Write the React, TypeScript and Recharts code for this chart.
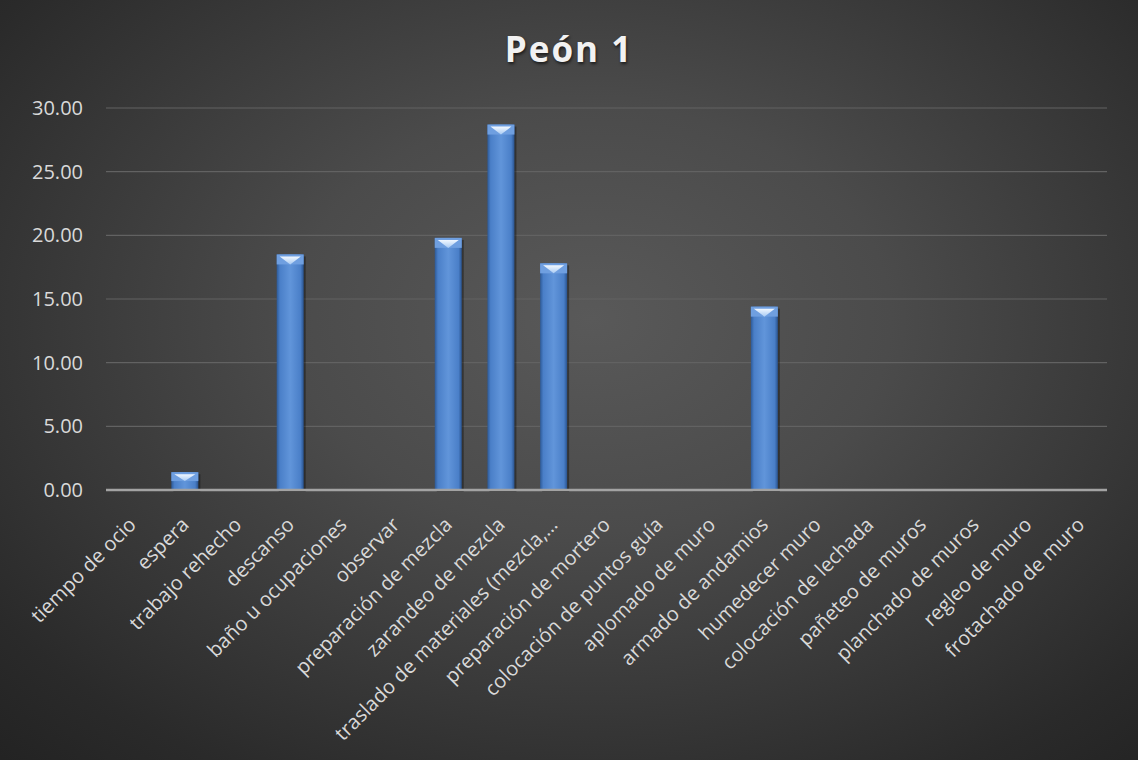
import React from "react";
import { BarChart, Bar, XAxis, YAxis, CartesianGrid } from "recharts";

const categories: string[] = [
  "tiempo de ocio",
  "espera",
  "trabajo rehecho",
  "descanso",
  "baño u ocupaciones",
  "observar",
  "preparación de mezcla",
  "zarandeo de mezcla",
  "traslado de materiales (mezcla,…",
  "preparación de mortero",
  "colocación de puntos guía",
  "aplomado de muro",
  "armado de andamios",
  "humedecer muro",
  "colocación de lechada",
  "pañeteo de muros",
  "planchado de muros",
  "regleo de muro",
  "frotachado de muro",
];

const values: number[] = [0, 1.4, 0, 18.5, 0, 0, 19.8, 28.7, 17.8, 0, 0, 0, 14.4, 0, 0, 0, 0, 0, 0];

const yTicks: number[] = [0, 5, 10, 15, 20, 25, 30];

const title = "Peón 1";

const data = categories.map((name, i) => ({ name, value: values[i] }));

const FONT = "'Open Sans', 'DejaVu Sans', sans-serif";
const LABEL_COLOR = "#d9d9d9";

function BevelBar(props: any) {
  const { x, y, width: w, height: h, index } = props;
  if (!h || h <= 0) return null;
  const id = `barg${index}`;
  const b = Math.min(10, h / 2);
  return (
    <g>
      <defs>
        <linearGradient id={id} x1="0" y1="0" x2="1" y2="0">
          <stop offset="0" stopColor="#2d5a98" />
          <stop offset="0.12" stopColor="#4a7fc8" />
          <stop offset="0.5" stopColor="#6195da" />
          <stop offset="0.88" stopColor="#4a7fc8" />
          <stop offset="1" stopColor="#2a5490" />
        </linearGradient>
        <linearGradient id={id + "t"} x1="0" y1="0" x2="0" y2="1">
          <stop offset="0" stopColor="#f2f8ff" />
          <stop offset="1" stopColor="#a9cbf3" />
        </linearGradient>
      </defs>
      <rect x={x + 2} y={y + 2} width={w} height={h} fill="rgba(0,0,0,0.35)" />
      <rect x={x} y={y} width={w} height={h} fill={`url(#${id})`} />
      <rect x={x} y={y} width={w} height={b} fill="#6f9fe0" />
      <polygon
        points={`${x + 3},${y + 2} ${x + w - 3},${y + 2} ${x + w / 2},${y + b}`}
        fill={`url(#${id}t)`}
      />
    </g>
  );
}

function XTick(props: any) {
  const { x, y, payload } = props;
  const tx = x + 5;
  const ty = y + 36;
  return (
    <text
      x={tx}
      y={ty}
      transform={`rotate(-45, ${tx}, ${ty})`}
      textAnchor="end"
      fill={LABEL_COLOR}
      fontSize={20}
      fontFamily={FONT}
    >
      {payload.value}
    </text>
  );
}

export default function App() {
  return (
    <div
      style={{
        position: "absolute",
        left: 0,
        top: 0,
        width: 1138,
        height: 760,
        background:
          "radial-gradient(ellipse 75% 80% at 52% 42%, #595959 0%, #4b4b4b 35%, #2a2a2a 85%, #232323 100%)",
        overflow: "hidden",
      }}
    >
      <div
        style={{
          position: "absolute",
          left: 0,
          top: 31,
          width: 1138,
          textAlign: "center",
          fontFamily: FONT,
          fontWeight: 700,
          fontSize: 35,
          lineHeight: "36px",
          letterSpacing: 2,
          color: "#f2f2f2",
          textShadow: "1px 2px 3px rgba(0,0,0,0.6)",
        }}
      >
        {title}
      </div>
      <div style={{ position: "absolute", left: 0, top: 0 }}>
        <BarChart
          width={1138}
          height={760}
          data={data}
          margin={{ top: 108, right: 31, bottom: 0, left: 0 }}
          barCategoryGap="24%"
        >
          <CartesianGrid vertical={false} stroke="#626262" strokeWidth={1.2} />
          <XAxis
            dataKey="name"
            interval={0}
            height={270}
            tickLine={false}
            tickSize={0}
            tickMargin={0}
            axisLine={{ stroke: "#a3a3a3", strokeWidth: 2.5 }}
            tick={<XTick />}
          />
          <YAxis
            width={106}
            domain={[0, 30]}
            ticks={yTicks}
            axisLine={false}
            tickLine={false}
            tickSize={6}
            tickMargin={17}
            tickFormatter={(v: number) => v.toFixed(2)}
            tick={{ fill: LABEL_COLOR, fontSize: 20, fontFamily: FONT }}
          />
          <Bar dataKey="value" isAnimationActive={false} shape={<BevelBar />} />
        </BarChart>
      </div>
    </div>
  );
}
